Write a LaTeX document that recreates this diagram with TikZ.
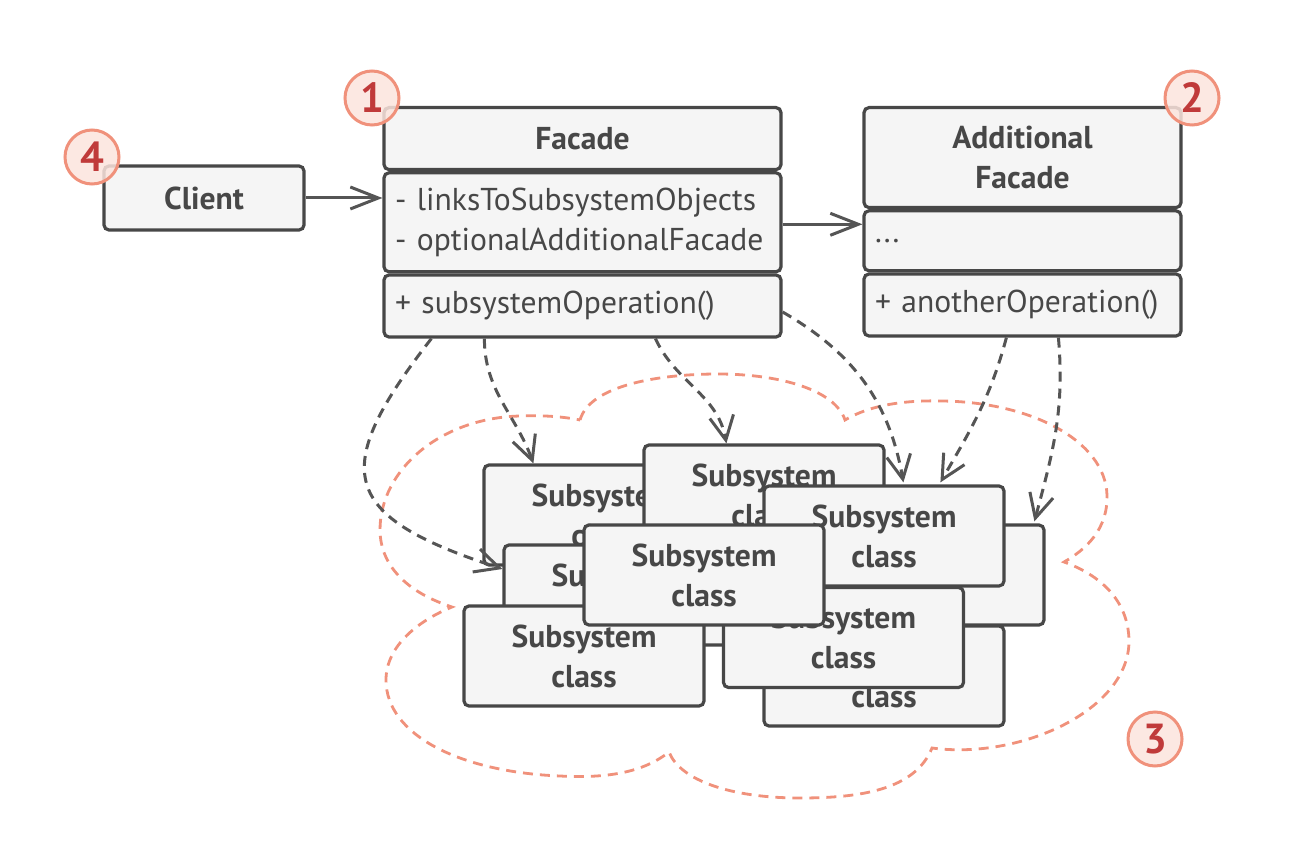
\documentclass[tikz,border=0pt]{standalone}
\usepackage{fontspec}
\setmainfont{PT Sans}
\usetikzlibrary{arrows.meta, positioning}
\definecolor{boxline}{HTML}{474747}
\definecolor{boxfill}{HTML}{F5F5F5}
\definecolor{linkgray}{HTML}{555555}
\definecolor{cloudred}{HTML}{F0917B}
\definecolor{badgefill}{HTML}{FBE4DD}
\definecolor{badgetext}{HTML}{C03A3A}

\begin{document}
\begin{tikzpicture}[
  x=0.5pt, y=-0.5pt,
  classbox/.style={rectangle, draw=boxline, fill=boxfill, line width=1.6pt, rounded corners=2.5pt, text=boxline, font=\bfseries\fontsize{15.8}{20}\selectfont, align=center},
  fieldbox/.style={rectangle, draw=boxline, fill=boxfill, line width=1.6pt, rounded corners=2.5pt, text=boxline, font=\fontsize{15.8}{20}\selectfont, align=left, inner xsep=5.5pt},
  subbox/.style={classbox, minimum width=120pt, minimum height=50pt},
  badge/.style={circle, draw=cloudred, fill=badgefill, fill opacity=0.85, text opacity=1, line width=1.5pt, minimum size=27pt, inner sep=0pt, text=badgetext, font=\bfseries\fontsize{21}{21}\selectfont},
  arrow/.style={draw=linkgray, line width=1.5pt, -{Straight Barb[length=14pt, width=11pt]}},
  dasharrow/.style={draw=linkgray, line width=1.5pt, dash pattern=on 5pt off 3.5pt, -{Straight Barb[length=12pt, width=12pt]}},
  cloud/.style={draw=cloudred, line width=1.4pt, dash pattern=on 5pt off 3.5pt}
]
\useasboundingbox (0,0) rectangle (1294,860);

\draw[cloud] (580,420) .. controls (590,385) and (660,374) .. (718,374)
  .. controls (780,374) and (835,390) .. (845,420)
  .. controls (870,405) and (905,400) .. (942,401)
  .. controls (1030,402) and (1105,440) .. (1107,495)
  .. controls (1108,530) and (1085,550) .. (1064,562)
  .. controls (1100,575) and (1128,600) .. (1129,640)
  .. controls (1130,710) and (1020,760) .. (932,748)
  .. controls (915,790) and (860,798) .. (800,798)
  .. controls (730,798) and (680,780) .. (669,752)
  .. controls (640,775) and (600,778) .. (560,776)
  .. controls (460,772) and (386,735) .. (386,680)
  .. controls (386,645) and (420,620) .. (452,607)
  .. controls (400,590) and (380,560) .. (380,530)
  .. controls (380,470) and (440,418) .. (520,416)
  .. controls (545,415) and (565,417) .. (580,420);

\node[classbox, minimum width=100pt, minimum height=32pt] (client) at (204,198) {Client};

\node[classbox, minimum width=198.5pt, minimum height=31pt, anchor=north] (facade) at (582.5,106) {Facade};
\node[fieldbox, text width=187.5pt, minimum height=49.5pt, below=0pt of facade] (facadeFields) {- linksToSubsystemObjects\\- optionalAdditionalFacade};
\node[fieldbox, text width=187.5pt, minimum height=31pt, below=0pt of facadeFields] (facadeOps) {+ subsystemOperation()};

\node[classbox, minimum width=158.5pt, minimum height=50pt, anchor=north] (addFacade) at (1022.5,106) {Additional\\Facade};
\node[fieldbox, text width=147.5pt, minimum height=30pt, below=0pt of addFacade] (addFields) {...};
\node[fieldbox, text width=147.5pt, minimum height=31pt, below=0pt of addFields] (addOps) {+ anotherOperation()};

\node[subbox] (subA) at (604,515) {Subsystem\\class};
\node[subbox] (subB) at (764,495) {Subsystem\\class};
\node[subbox] (subG) at (924,575) {Subsystem\\class};
\node[subbox] (subH) at (884,676) {Subsystem\\class};
\node[subbox] (subC) at (624,595) {Subsystem\\class};
\node[subbox] (subI) at (584,656) {Subsystem\\class};
\node[subbox] (subE) at (884,536) {Subsystem\\class};
\node[subbox] (subF) at (843.5,637.5) {Subsystem\\class};
\node[subbox] (subD) at (704,575) {Subsystem\\class};

\draw[arrow] (client.east) -- (client.east -| facadeFields.west);
\draw[arrow] ([yshift=-1pt]facadeFields.east) -- ([yshift=-1pt]facadeFields.east -| addFields.west);

\draw[dasharrow] ([xshift=24.5pt]facadeOps.south west) to[out=-128, in=162, looseness=1.8] ([yshift=13pt]subC.west);
\draw[dasharrow] ([xshift=51pt]facadeOps.south west) to[out=-90, in=110] ([xshift=25.5pt]subA.north west);
\draw[dasharrow] ([xshift=136.5pt]facadeOps.south west) to[out=-65, in=100] ([xshift=42pt]subB.north west);
\draw[dasharrow] ([yshift=-3pt]facadeOps.east) to[out=-30, in=100] ([xshift=70.5pt, yshift=1pt]subE.north west);
\draw[dasharrow] ([xshift=72pt]addOps.south west) to[out=-105, in=60] ([xshift=89pt, yshift=1pt]subE.north west);
\draw[dasharrow] ([xshift=98pt]addOps.south west) to[out=-85, in=75] ([xshift=116pt, yshift=1pt]subG.north west);

\node[badge] (badge1) at (372,98) {1};
\node[badge] (badge2) at (1192,98) {2};
\node[badge] (badge3) at (1155,739) {3};
\node[badge] (badge4) at (92,157) {4};

\end{tikzpicture}
\end{document}
